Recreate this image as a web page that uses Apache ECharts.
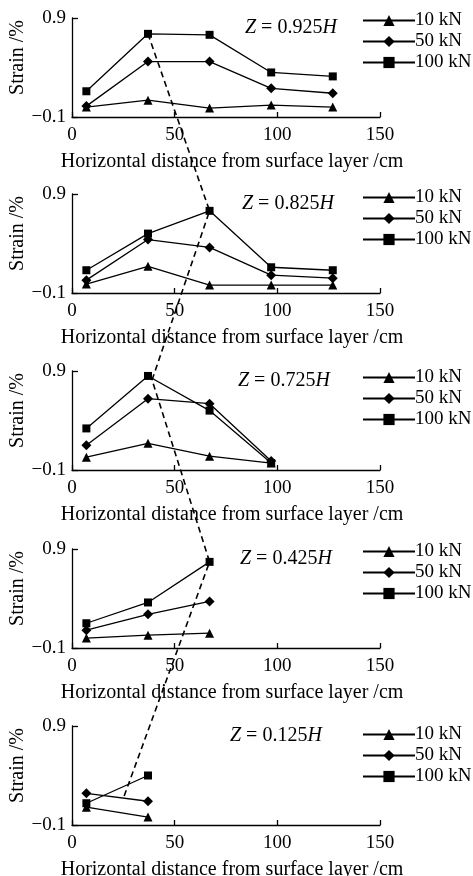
<!DOCTYPE html>
<html>
<head>
<meta charset="utf-8">
<script src="https://cdn.jsdelivr.net/npm/echarts@6/dist/echarts.min.js"></script>
<style>
  html, body { margin: 0; padding: 0; background: #fff; }
  #main { width: 473px; height: 876px; }
</style>
</head>
<body>
<div id="main"></div>
<script>
const FONT = 'Liberation Serif'

// horizontal distance of the gauges, cm
const X_POS = [7, 37, 67, 97, 127]
const LOADS = ['10 kN', '50 kN', '100 kN']
const SYMBOLS = ['triangle', 'diamond', 'rect']
const DEPTHS = ['0.925', '0.825', '0.725', '0.425', '0.125']

// strain (%) per load: 10 kN, 50 kN, 100 kN
const STRAIN_925 = [
  [0.00, 0.07, -0.01, 0.02, 0.00],
  [0.01, 0.46, 0.46, 0.19, 0.14],
  [0.16, 0.74, 0.73, 0.35, 0.31]
]
const STRAIN_825 = [
  [-0.01, 0.17, -0.02, -0.02, -0.02],
  [0.03, 0.44, 0.36, 0.08, 0.05],
  [0.13, 0.50, 0.73, 0.16, 0.13]
]
const STRAIN_725 = [
  [0.03, 0.17, 0.04, -0.03],
  [0.15, 0.62, 0.57, -0.01],
  [0.32, 0.85, 0.50, -0.03]
]
const STRAIN_425 = [
  [0.00, 0.03, 0.05],
  [0.08, 0.24, 0.37],
  [0.15, 0.36, 0.77]
]
const STRAIN_125 = [
  [0.08, -0.02],
  [0.22, 0.14],
  [0.12, 0.40]
]
const PANELS = [STRAIN_925, STRAIN_825, STRAIN_725, STRAIN_425, STRAIN_125]

// dashed trend line: [panel, x, strain]
const DASH_PTS = [
  [0, 37, 0.74],
  [1, 67, 0.73],
  [2, 39, 0.81],
  [3, 67, 0.77],
  [4, 25, 0.17]
]

const GRID_TOPS = [18, 194, 371, 549, 726]
const TITLE_LEFT = [245, 242, 238, 240, 230]
const LEGEND_TOPS = [6, 183, 363, 537, 720]

const dom = document.getElementById('main')
const myChart = echarts.init(dom)

const grid = []
const xAxis = []
const yAxis = []
const series = []
const legend = []
const title = []

GRID_TOPS.forEach(function (top, i) {
  grid.push({ left: 72, width: 308, top: top, height: 99, outerBoundsMode: 'none', containLabel: false })
  xAxis.push({
    gridIndex: i,
    type: 'value',
    min: 0,
    max: 150,
    interval: 50,
    name: 'Horizontal distance from surface layer /cm',
    nameLocation: 'middle',
    nameGap: 35,
    nameMoveOverlap: false,
    nameTextStyle: { fontFamily: FONT, fontSize: 20, color: '#000', padding: [0, 0, 0, 12] },
    axisLine: { onZero: false, lineStyle: { color: '#000', width: 1.3 } },
    axisTick: { inside: true, length: 5, lineStyle: { color: '#000', width: 1.3 } },
    axisLabel: { fontFamily: FONT, fontSize: 19, color: '#000', margin: 9 },
    splitLine: { show: false }
  })
  yAxis.push({
    gridIndex: i,
    type: 'value',
    min: -0.1,
    max: 0.9,
    name: 'Strain /%',
    nameLocation: 'middle',
    nameGap: 44,
    nameMoveOverlap: false,
    nameTextStyle: { fontFamily: FONT, fontSize: 20, color: '#000', padding: [0, 0, 0, 20] },
    axisLine: { show: true, onZero: false, lineStyle: { color: '#000', width: 1.3 } },
    axisTick: { inside: true, length: 6, customValues: [-0.1, 0.9], lineStyle: { color: '#000', width: 1.3 } },
    axisLabel: {
      fontFamily: FONT, fontSize: 19, color: '#000', margin: 6,
      customValues: [-0.1, 0.9],
      formatter: function (v) { return v < 0 ? '\u2212' + Math.abs(v).toFixed(1) : v.toFixed(1) }
    },
    splitLine: { show: false }
  })
  PANELS[i].forEach(function (vals, k) {
    series.push({
      name: LOADS[k],
      type: 'line',
      xAxisIndex: i,
      yAxisIndex: i,
      symbol: SYMBOLS[k],
      symbolSize: k === 0 ? 9 : (k === 1 ? 10 : 8),
      lineStyle: { color: '#000', width: 1.3 },
      itemStyle: { color: '#000' },
      data: vals.map(function (v, j) { return [X_POS[j], v] })
    })
  })
  legend.push({
    left: 357,
    top: LEGEND_TOPS[i],
    orient: 'vertical',
    itemWidth: 52,
    itemHeight: 14,
    itemGap: 2,
    data: LOADS,
    textStyle: { fontFamily: FONT, fontSize: 19, color: '#000', padding: [0, 0, 0, -5] },
    selectedMode: false
  })
  title.push({
    text: '{i|Z} = ' + DEPTHS[i] + '{i|H}',
    left: TITLE_LEFT[i],
    top: top,
    padding: 0,
    textStyle: {
      fontFamily: FONT, fontSize: 20, fontWeight: 'normal', color: '#000',
      rich: { i: { fontFamily: FONT, fontSize: 20, fontStyle: 'italic', color: '#000' } }
    }
  })
})

const option = {
  animation: false,
  backgroundColor: '#fff',
  title: title,
  legend: legend,
  grid: grid,
  xAxis: xAxis,
  yAxis: yAxis,
  series: series
}
myChart.setOption(option)

const pts = DASH_PTS.map(function (p) {
  return myChart.convertToPixel({ gridIndex: p[0] }, [p[1], p[2]])
})
myChart.setOption({
  graphic: [{
    type: 'polyline',
    z: 100,
    shape: { points: pts },
    style: { stroke: '#000', lineWidth: 1.6, lineDash: [6, 4], fill: null }
  }]
})
</script>
</body>
</html>
